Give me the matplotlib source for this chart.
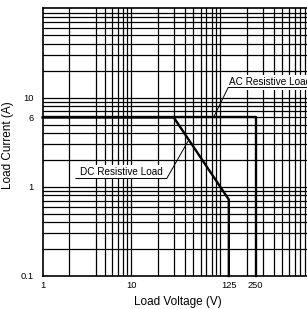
import matplotlib
matplotlib.use("Agg")
import matplotlib.pyplot as plt
from matplotlib.ticker import FixedLocator, NullFormatter

plt.rcParams['font.family'] = ['Liberation Sans', 'DejaVu Sans']

# 数据
ac_voltage = [1, 250, 250]
ac_current = [6, 6, 0.1]
dc_voltage = [1, 30, 125, 125]
dc_current = [6, 6, 0.72, 0.1]

x_ticks = [1, 10, 125, 250]
x_ticklabels = ["1", "10", "125", "250"]
y_ticks = [0.1, 1, 6, 10]
y_ticklabels = ["0.1", "1", "6", "10"]

# 网格线位置（第一个十倍程没有 3）
x_grid = [2, 4, 5, 6, 7, 8, 9] + [10 * k for k in range(1, 10)] + [100 * k for k in range(1, 10)]
y_grid = [0.1 * k for k in range(2, 10)] + [k for k in range(1, 10)] + [10 * k for k in range(1, 10)]

# 标注位置
dc_label_pos = (7.7, 1.47)
dc_leader = ([2.37, 25, 43.8], [1.24, 1.24, 3.3])
ac_label_pos = (127, 14.8)
ac_leader = ([84, 123, 1000], [6, 13.0, 13.0])

fig = plt.figure(figsize=(3.07, 3.09), dpi=100)
ax = fig.add_axes([0.139, 0.1068, 0.8674, 0.8657])
ax.set_xscale("log")
ax.set_yscale("log")
ax.set_xlim(1, 1000)
ax.set_ylim(0.1, 100)

ax.xaxis.set_major_locator(FixedLocator(x_ticks))
ax.xaxis.set_ticklabels(x_ticklabels)
ax.yaxis.set_major_locator(FixedLocator(y_ticks))
ax.yaxis.set_ticklabels(y_ticklabels)
ax.xaxis.set_minor_locator(FixedLocator(x_grid))
ax.yaxis.set_minor_locator(FixedLocator(y_grid))
ax.xaxis.set_minor_formatter(NullFormatter())
ax.yaxis.set_minor_formatter(NullFormatter())
ax.xaxis.remove_overlapping_locs = False
ax.yaxis.remove_overlapping_locs = False
ax.grid(False, which="major")
ax.grid(True, which="minor", color="black", linewidth=0.9)
ax.set_axisbelow(True)
ax.tick_params(which="both", length=0)
ax.tick_params(axis="y", pad=6.5, labelsize=6.7)
ax.tick_params(axis="x", pad=3.5, labelsize=6.7)

for s in ax.spines.values():
    s.set_linewidth(1.2)
    s.set_color("black")

ax.plot(ac_voltage, ac_current, color="black", linewidth=1.7, zorder=5, clip_on=False)
ax.plot(dc_voltage, dc_current, color="black", linewidth=1.7, zorder=5, clip_on=False)

# 标注
ax.text(*dc_label_pos, "DC Resistive Load", fontsize=7.2, ha="center", va="center",
        bbox=dict(facecolor="white", edgecolor="none", pad=1.5), zorder=6)
ax.plot(*dc_leader, color="black", linewidth=0.7, zorder=7)
ax.text(*ac_label_pos, "AC Resistive Load", fontsize=7.2, ha="left", va="center",
        bbox=dict(facecolor="white", edgecolor="none", pad=1.5), zorder=6)
ax.plot(*ac_leader, color="black", linewidth=0.7, zorder=7)

ax.set_xlabel("Load Voltage (V)", fontsize=8.5)
ax.set_ylabel("Load Current (A)", fontsize=8.5)
ax.xaxis.set_label_coords(0.508, -0.096)
ax.yaxis.set_label_coords(-0.13, 0.49)
ax.xaxis.label.set_va("center")
ax.yaxis.label.set_va("center")

fig.savefig("out.png", dpi=100)
